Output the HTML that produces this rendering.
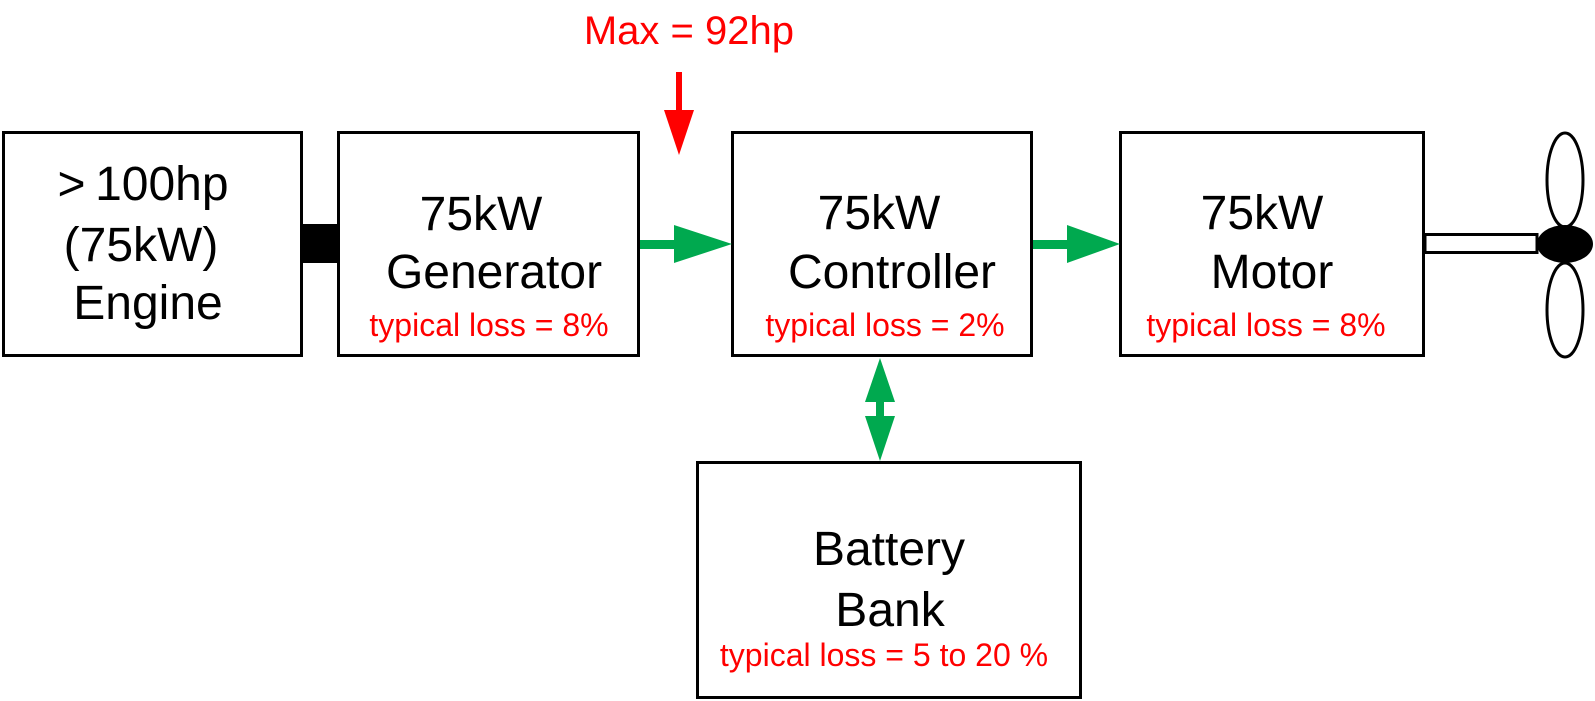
<!DOCTYPE html>
<html><head><meta charset="utf-8"><style>
html,body{margin:0;padding:0;background:#fff;}
svg{display:block;}
text{font-family:"Liberation Sans",Arial,sans-serif;}
</style></head><body>
<svg width="1595" height="701" viewBox="0 0 1595 701" xmlns="http://www.w3.org/2000/svg">
<g fill="#fff" stroke="#000" stroke-width="3">
<rect x="3.5" y="132.5" width="298" height="223"/>
<rect x="338.5" y="132.5" width="300" height="223"/>
<rect x="732.5" y="132.5" width="299" height="223"/>
<rect x="1120.5" y="132.5" width="303" height="223"/>
<rect x="697.5" y="462.5" width="383" height="235"/>
</g>
<rect x="302" y="224" width="36" height="39" fill="#000"/>
<rect x="1425" y="234.5" width="112" height="18" fill="#fff" stroke="#000" stroke-width="3"/>
<ellipse cx="1565" cy="180" rx="18" ry="47" fill="#fff" stroke="#000" stroke-width="3"/>
<ellipse cx="1565" cy="310" rx="18" ry="47" fill="#fff" stroke="#000" stroke-width="3"/>
<ellipse cx="1565" cy="244" rx="28" ry="19" fill="#000"/>
<g fill="#00a94f" stroke="none">
<rect x="640" y="240" width="36" height="9"/>
<polygon points="674,225 732,244 674,263"/>
<rect x="1033" y="240" width="36" height="9"/>
<polygon points="1067,225 1120,244 1067,263"/>
<polygon points="880,358 865,402 895,402"/>
<rect x="876" y="400" width="8" height="18"/>
<polygon points="865,416 895,416 880,461"/>
</g>
<rect x="676" y="72" width="6" height="40" fill="#f00"/>
<polygon points="664,110 694,110 679,155" fill="#f00"/>
<text x="794" y="44" font-size="40" fill="#f00" text-anchor="end">Max = 92hp</text>
<g font-size="48" fill="#000" text-anchor="middle">
<text x="143" y="200">&gt;&#8201;100hp</text>
<text x="141" y="261">(75kW)</text>
<text x="148" y="319">Engine</text>
<text x="481" y="230">75kW</text>
<text x="494" y="288">Generator</text>
<text x="879" y="229">75kW</text>
<text x="892" y="288">Controller</text>
<text x="1262" y="229">75kW</text>
<text x="1272" y="288">Motor</text>
<text x="889" y="565">Battery</text>
<text x="890" y="626">Bank</text>
</g>
<g font-size="32" fill="#f00" text-anchor="middle">
<text x="489" y="336">typical loss = 8%</text>
<text x="885" y="336">typical loss = 2%</text>
<text x="1266" y="336">typical loss = 8%</text>
<text x="884" y="666">typical loss = 5 to 20 %</text>
</g>
</svg>
</body></html>
